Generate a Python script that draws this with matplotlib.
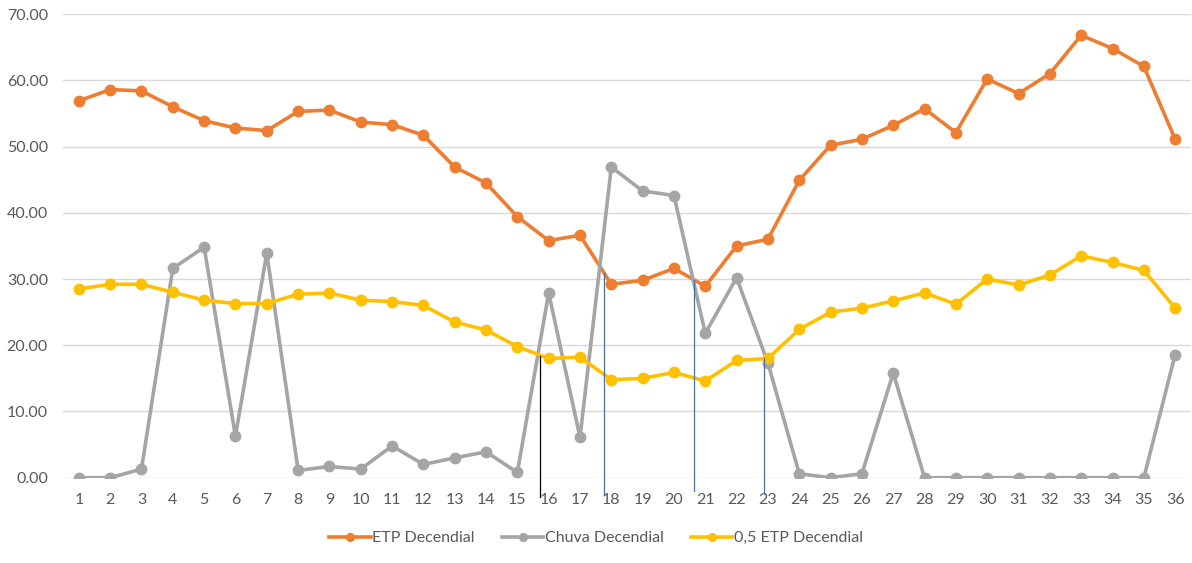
import numpy as np
import matplotlib.pyplot as plt

plt.rcParams['font.family'] = ['Lato', 'DejaVu Sans']

decendios = list(range(1, 37))

etp = [56.9, 58.6, 58.4, 56.0, 53.9, 52.8, 52.4, 55.3, 55.5, 53.7, 53.3, 51.7,
       46.9, 44.5, 39.4, 35.8, 36.6, 29.2, 29.8, 31.6, 28.9, 35.0, 36.0, 44.9,
       50.2, 51.1, 53.2, 55.7, 52.1, 60.2, 58.0, 61.0, 66.8, 64.8, 62.1, 51.1]

chuva = [0.0, 0.0, 1.3, 31.6, 34.8, 6.3, 33.9, 1.1, 1.7, 1.3, 4.8, 2.0,
         3.0, 3.9, 0.8, 27.9, 6.1, 46.9, 43.3, 42.6, 21.8, 30.2, 17.3, 0.6,
         0.0, 0.6, 15.8, 0.0, 0.0, 0.0, 0.0, 0.0, 0.0, 0.0, 0.0, 18.6]

meia_etp = [28.5, 29.2, 29.2, 28.0, 26.8, 26.3, 26.3, 27.7, 27.9, 26.8, 26.6, 26.0,
            23.5, 22.3, 19.8, 18.0, 18.2, 14.8, 15.0, 15.9, 14.6, 17.7, 18.0, 22.4,
            25.0, 25.6, 26.7, 27.9, 26.2, 30.0, 29.1, 30.6, 33.5, 32.5, 31.3, 25.6]

# marker lines drawn by hand over the chart: x position, top, bottom, colour
marca_x = [15.73, 17.77, 20.65, 22.88]
marca_topo = [18.4, 30.9, 29.9, 18.0]
marca_base = [-2.9, -2.4, -2.0, -2.4]
marca_cor = ['black', '#4a6fa5', '#4a6fa5', '#4a6fa5']

fig = plt.figure(figsize=(11.92, 5.63), dpi=100)
ax = fig.add_axes([0.053, 0.1515, 0.946, 0.8235])

series = [(etp, 'ETP Decendial', '#ED7D31'),
          (chuva, 'Chuva Decendial', '#A5A5A5'),
          (meia_etp, '0,5 ETP Decendial', '#FFC000')]
for vals, nome, cor in series:
    ax.plot(decendios, vals, color=cor, lw=2.6, marker='o', ms=7.5,
            label=nome, zorder=3)

for x, y0, y1, c in zip(marca_x, marca_topo, marca_base, marca_cor):
    ax.plot([x, x], [y0, y1], color=c, lw=0.9, clip_on=False, zorder=4)

ax.set_xlim(0.5, 36.5)
ax.set_ylim(0, 70)
ax.set_yticks(np.arange(0, 71, 10))
ax.set_yticklabels([f'{v:.2f}' for v in range(0, 71, 10)])
ax.set_xticks(decendios)
ax.grid(axis='y', color='#d9d9d9', lw=1)
ax.set_axisbelow(True)
for s in ax.spines.values():
    s.set_visible(False)
ax.tick_params(length=0, labelsize=11.5, labelcolor='#595959')
ax.tick_params(axis='x', pad=11)
ax.tick_params(axis='y', pad=11)

leg = fig.legend(loc='center', bbox_to_anchor=(0.5, 0.044), ncol=3, frameon=False,
                 fontsize=11.5, handlelength=2.6, columnspacing=1.7,
                 handletextpad=0.1, labelcolor='#595959', markerscale=0.75)

fig.savefig('out.png', dpi=100)
